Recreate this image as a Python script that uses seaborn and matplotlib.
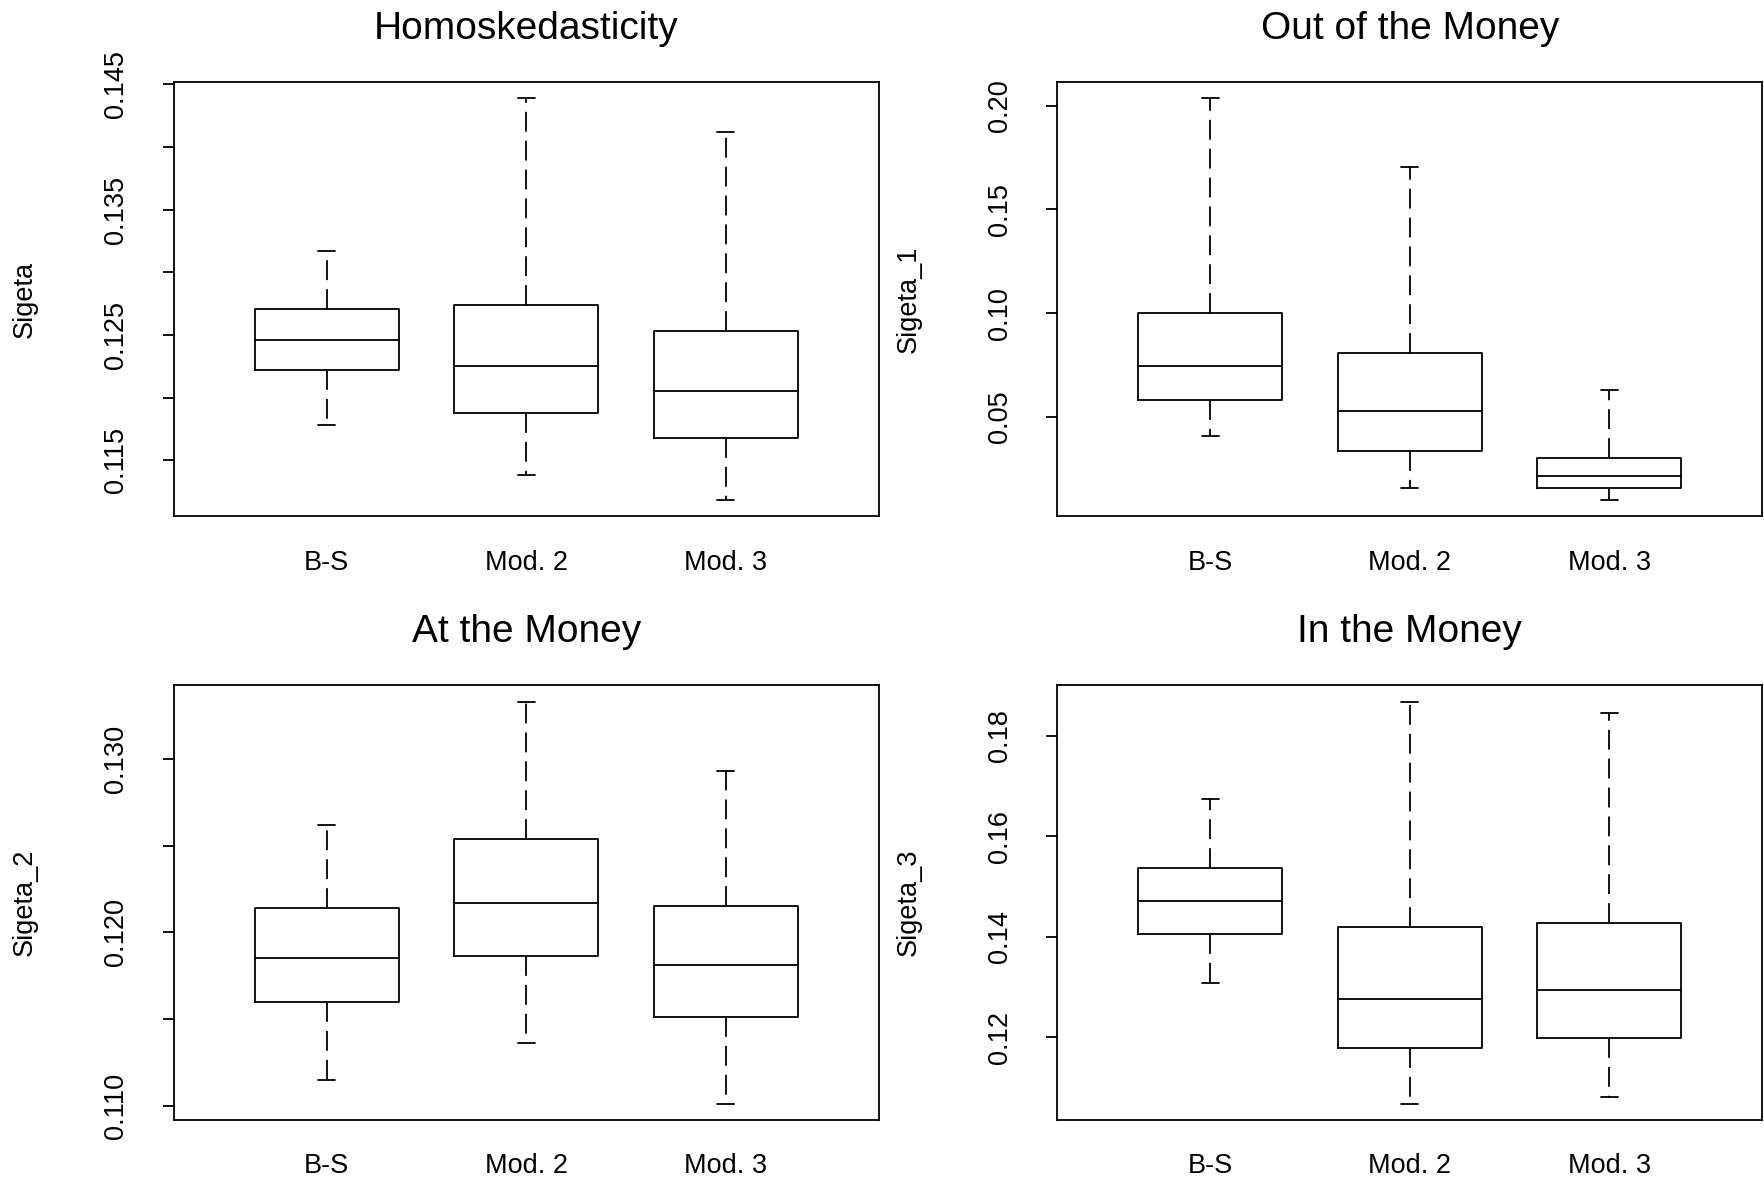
import pandas as pd
import matplotlib
matplotlib.use("Agg")
import matplotlib.pyplot as plt
import seaborn as sns

# models on the x axis
models = ["B-S", "Mod. 2", "Mod. 3"]

# five-number summaries per model: [lower whisker, Q1, median, Q3, upper whisker]
homo_bs = [0.1178, 0.1222, 0.1246, 0.1271, 0.1317]
homo_m2 = [0.1138, 0.1188, 0.1225, 0.1274, 0.1439]
homo_m3 = [0.1118, 0.1168, 0.1205, 0.1253, 0.1412]

otm_bs = [0.0409, 0.0581, 0.0746, 0.1002, 0.2036]
otm_m2 = [0.0158, 0.0337, 0.0531, 0.0808, 0.1704]
otm_m3 = [0.0098, 0.0158, 0.0215, 0.0304, 0.0631]

atm_bs = [0.1115, 0.1160, 0.1185, 0.1214, 0.1262]
atm_m2 = [0.1136, 0.1186, 0.1217, 0.1254, 0.1333]
atm_m3 = [0.1101, 0.1151, 0.1181, 0.1215, 0.1293]

itm_bs = [0.1308, 0.1406, 0.1470, 0.1537, 0.1675]
itm_m2 = [0.1067, 0.1179, 0.1275, 0.1420, 0.1868]
itm_m3 = [0.1080, 0.1198, 0.1293, 0.1427, 0.1846]

titles = ["Homoskedasticity", "Out of the Money", "At the Money", "In the Money"]
ylabels = ["Sigeta", "Sigeta_1", "Sigeta_2", "Sigeta_3"]
panel_data = [
    [homo_bs, homo_m2, homo_m3],
    [otm_bs, otm_m2, otm_m3],
    [atm_bs, atm_m2, atm_m3],
    [itm_bs, itm_m2, itm_m3],
]

# y ticks (all) and which ones carry a label
yticks = [
    [0.115, 0.120, 0.125, 0.130, 0.135, 0.140, 0.145],
    [0.05, 0.10, 0.15, 0.20],
    [0.110, 0.115, 0.120, 0.125, 0.130],
    [0.12, 0.14, 0.16, 0.18],
]
yticklabels = [
    ["0.115", "", "0.125", "", "0.135", "", "0.145"],
    ["0.05", "0.10", "0.15", "0.20"],
    ["0.110", "", "0.120", "", "0.130"],
    ["0.12", "0.14", "0.16", "0.18"],
]

sns.set_style("ticks")
plt.rcParams["font.family"] = ["Liberation Sans", "DejaVu Sans"]
for key in ["text.color", "axes.labelcolor", "xtick.color", "ytick.color", "axes.edgecolor"]:
    plt.rcParams[key] = "black"

fig, axes = plt.subplots(2, 2, figsize=(17.64, 11.84), dpi=100)
fig.subplots_adjust(left=0.0986, right=0.9989, top=0.9307, bottom=0.0541,
                    wspace=0.254, hspace=0.389)

lw = 1.3
for i, ax in enumerate(axes.flat):
    # one row per summary value -> quartiles of 5 points match exactly
    rows = []
    for m, vals in zip(models, panel_data[i]):
        for v in vals:
            rows.append({"Model": m, "Value": v})
    df = pd.DataFrame(rows)

    sns.boxplot(
        data=df, x="Model", y="Value", ax=ax, order=models,
        whis=(0, 100), width=0.72, fill=False, color="black",
        linewidth=lw, showfliers=False,
        whiskerprops={"linestyle": (0, (11, 5)), "color": "black"},
        boxprops={"color": "black"},
        medianprops={"color": "black", "linewidth": lw},
        capprops={"color": "black"},
        capwidths=0.085,
    )

    ax.set_xlim(-0.766, 2.766)
    lo = min(min(v) for v in panel_data[i])
    hi = max(max(v) for v in panel_data[i])
    pad = (hi - lo) * 0.04
    ax.set_ylim(lo - pad, hi + pad)

    ax.set_yticks(yticks[i])
    ax.set_yticklabels(yticklabels[i], rotation=90, va="center")
    ax.tick_params(axis="y", length=8, width=lw, pad=24, labelsize=19.5)
    ax.tick_params(axis="x", length=0, pad=24, labelsize=19.5)

    for s in ax.spines.values():
        s.set_visible(True)
        s.set_linewidth(lw)
        s.set_color("black")

    ax.set_xlabel("")
    ax.set_ylabel(ylabels[i], fontsize=19.5)
    ax.yaxis.set_label_coords(-0.193, 0.5)
    ax.set_title(titles[i], fontsize=28, pad=31)

plt.savefig("out.png", dpi=100)
